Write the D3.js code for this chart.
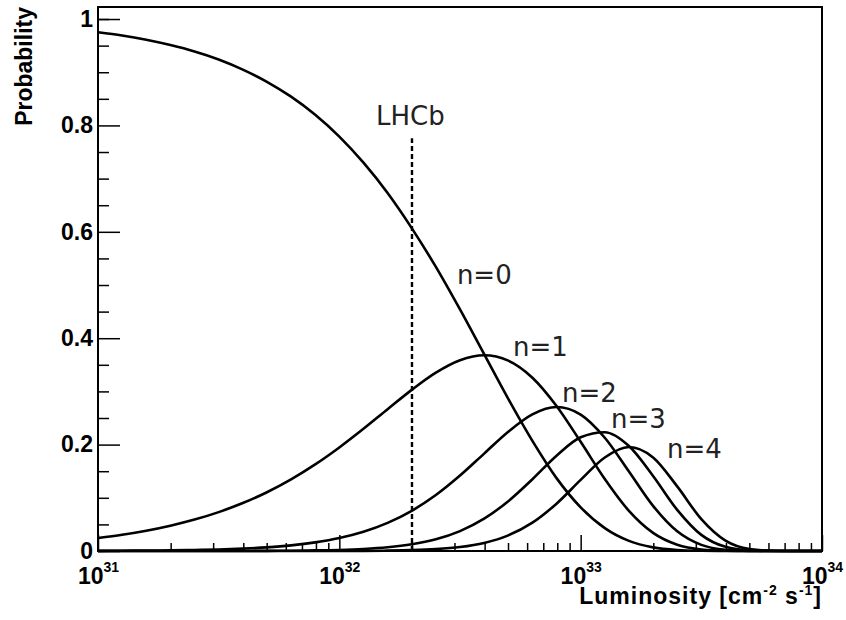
<!DOCTYPE html>
<html>
<head>
<meta charset="utf-8">
<script src="https://cdn.jsdelivr.net/npm/d3@7"></script>
<style>
body { margin: 0; background: #fff; }
</style>
</head>
<body>
<svg id="chart" width="846" height="620"></svg>
<script>
// Data --------------------------------------------------------------------------

// log10 of the luminosity [cm^-2 s^-1] at each sample
var logLumi = [31.0, 31.1, 31.2, 31.3, 31.4, 31.5, 31.6, 31.7, 31.8, 31.9,
               32.0, 32.1, 32.2, 32.3, 32.4, 32.5, 32.6, 32.7, 32.8, 32.9,
               33.0, 33.1, 33.2, 33.3, 33.4, 33.5, 33.6, 33.7, 33.8, 33.9, 34.0];

// probability of n interactions per crossing
var probN0 = [0.975, 0.969, 0.961, 0.951, 0.939, 0.924, 0.905, 0.882, 0.854, 0.820,
              0.779, 0.730, 0.673, 0.607, 0.534, 0.454, 0.370, 0.286, 0.207, 0.137,
              0.082, 0.043, 0.019, 0.0068, 0.0019, 0.0004, 0, 0, 0, 0, 0];
var probN1 = [0.0244, 0.0305, 0.0381, 0.0475, 0.0590, 0.0731, 0.0901, 0.1105, 0.1347, 0.1628,
              0.1947, 0.2297, 0.2666, 0.3029, 0.3352, 0.3586, 0.3679, 0.3579, 0.3258, 0.2726,
              0.2052, 0.1353, 0.0754, 0.0340, 0.0118, 0.0029, 0.0005, 0, 0, 0, 0];
var probN2 = [0.0003, 0.0005, 0.0008, 0.0012, 0.0019, 0.0029, 0.0045, 0.0069, 0.0106, 0.0162,
              0.0243, 0.0361, 0.0528, 0.0755, 0.1052, 0.1418, 0.1831, 0.2242, 0.2569, 0.2707,
              0.2565, 0.2129, 0.1494, 0.0848, 0.0370, 0.0115, 0.0024, 0.0003, 0, 0, 0];
var probN3 = [0, 0, 0, 0, 0, 0.0001, 0.0001, 0.0003, 0.0006, 0.0011,
              0.0020, 0.0038, 0.0070, 0.0126, 0.0220, 0.0374, 0.0607, 0.0937, 0.1350, 0.1792,
              0.2138, 0.2233, 0.1973, 0.1410, 0.0774, 0.0303, 0.0078, 0.0012, 0.0001, 0, 0];
var probN4 = [0, 0, 0, 0, 0, 0, 0, 0, 0, 0.0001,
              0.0001, 0.0003, 0.0007, 0.0016, 0.0035, 0.0074, 0.0151, 0.0293, 0.0532, 0.0890,
              0.1336, 0.1757, 0.1954, 0.1758, 0.1215, 0.0599, 0.0195, 0.0037, 0.0004, 0, 0];

var seriesNames = ["n=0", "n=1", "n=2", "n=3", "n=4"];
// where each curve label sits (luminosity, probability)
var labelLumi = [3.07e32, 5.24e32, 8.37e32, 1.336e33, 2.28e33];
var labelProb = [0.502, 0.3665, 0.280, 0.231, 0.175];

// LHCb design luminosity marker
var lhcbLumi = 2e32;
var lhcbTop = 0.776;
var lhcbLabelLumi = 1.42e32;
var lhcbLabelProb = 0.801;

var yMajorTicks = [0, 0.2, 0.4, 0.6, 0.8, 1];
var yMinorTicks = [0.05, 0.1, 0.15, 0.25, 0.3, 0.35, 0.45, 0.5, 0.55, 0.65, 0.7, 0.75, 0.85, 0.9, 0.95, 1.0];
var xMajorTicks = [1e31, 1e32, 1e33, 1e34];

// Setup ---------------------------------------------------------------------------

var svg = d3.select("#chart");
var frameLeft = 98, frameTop = 7, width = 724, height = 544;
var g = svg.append("g").attr("transform", "translate(" + frameLeft + "," + frameTop + ")");

var x = d3.scaleLog().domain([1e31, 1e34]).range([0, width]);
var y = d3.scaleLinear().domain([0, 1.0226]).range([height, 0]);

var boldFont = "'Liberation Sans', Arial, Helvetica, sans-serif";
var textFont = "'DejaVu Sans', sans-serif";

// Axes ----------------------------------------------------------------------------

// y minor ticks
var yMinor = g.append("g")
    .call(d3.axisLeft(y).tickValues(yMinorTicks).tickSize(-11).tickFormat(""));
// y major ticks
var yMajor = g.append("g")
    .call(d3.axisLeft(y).tickValues(yMajorTicks).tickSize(-22).tickPadding(5)
        .tickFormat(function (d) { return d3.format("~g")(d); }));
yMajor.selectAll("text")
    .attr("font-family", boldFont)
    .attr("font-weight", "bold")
    .attr("font-size", "23px")
    .attr("fill", "#000");

// x minor ticks (2..9 in each decade)
var xMinorTicks = x.ticks().filter(function (d) {
    return xMajorTicks.indexOf(d) < 0;
});
var xMinor = g.append("g")
    .attr("transform", "translate(0," + height + ")")
    .call(d3.axisBottom(x).tickValues(xMinorTicks).tickSize(-8).tickFormat(""));
var xMajor = g.append("g")
    .attr("transform", "translate(0," + height + ")")
    .call(d3.axisBottom(x).tickValues(xMajorTicks).tickSize(-16).tickFormat(""));

// exponent labels 10^n
xMajor.selectAll(".tick text")
    .attr("y", 33)
    .attr("dy", null)
    .attr("font-family", boldFont)
    .attr("font-weight", "bold")
    .attr("font-size", "23px")
    .attr("fill", "#000")
    .each(function (d) {
        var t = d3.select(this);
        t.text(null);
        t.append("tspan").text("10");
        t.append("tspan").attr("dy", -12).attr("font-size", "14px")
            .text(Math.round(Math.log10(d)));
    });

[yMinor, yMajor, xMinor, xMajor].forEach(function (a) {
    a.select(".domain").remove();
    a.selectAll(".tick line").attr("stroke", "#000").attr("stroke-width", 1.5);
});

// frame
g.append("rect")
    .attr("x", 0).attr("y", 0)
    .attr("width", width).attr("height", height)
    .attr("fill", "none")
    .attr("stroke", "#000")
    .attr("stroke-width", 2);

// axis titles
var xTitle = svg.append("text")
    .attr("x", frameLeft + width)
    .attr("y", 604)
    .attr("text-anchor", "end")
    .attr("font-family", boldFont)
    .attr("font-weight", "bold")
    .attr("font-size", "23px")
    .attr("letter-spacing", "1px");
xTitle.append("tspan").text("Luminosity [cm");
xTitle.append("tspan").attr("dy", -9).attr("font-size", "14px").text("-2");
xTitle.append("tspan").attr("dy", 9).text(" s");
xTitle.append("tspan").attr("dy", -9).attr("font-size", "14px").text("-1");
xTitle.append("tspan").attr("dy", 9).text("]");

svg.append("text")
    .attr("transform", "translate(32,7) rotate(-90)")
    .attr("text-anchor", "end")
    .attr("font-family", boldFont)
    .attr("font-weight", "bold")
    .attr("font-size", "23px")
    .text("Probability");

// Curves --------------------------------------------------------------------------

var allSeries = [probN0, probN1, probN2, probN3, probN4];

var line = d3.line()
    .x(function (d) { return x(Math.pow(10, d[0])); })
    .y(function (d) { return y(d[1]); })
    .curve(d3.curveMonotoneX);

allSeries.forEach(function (probs) {
    var pts = logLumi.map(function (l, i) { return [l, probs[i]]; });
    g.append("path")
        .datum(pts)
        .attr("d", line)
        .attr("fill", "none")
        .attr("stroke", "#000")
        .attr("stroke-width", 2.6);
});

// LHCb marker
g.append("line")
    .attr("x1", x(lhcbLumi)).attr("x2", x(lhcbLumi))
    .attr("y1", y(0)).attr("y2", y(lhcbTop))
    .attr("stroke", "#000")
    .attr("stroke-width", 2.4)
    .attr("stroke-dasharray", "5,3");

g.append("text")
    .attr("x", x(lhcbLabelLumi))
    .attr("y", y(lhcbLabelProb))
    .attr("font-family", textFont)
    .attr("font-size", "26px")
    .attr("fill", "#222")
    .text("LHCb");

// curve labels
g.selectAll(".nlabel")
    .data(seriesNames)
    .enter()
    .append("text")
    .attr("class", "nlabel")
    .attr("x", function (d, i) { return x(labelLumi[i]); })
    .attr("y", function (d, i) { return y(labelProb[i]); })
    .attr("font-family", textFont)
    .attr("font-size", "26px")
    .attr("fill", "#222")
    .text(function (d) { return d; });
</script>
</body>
</html>
